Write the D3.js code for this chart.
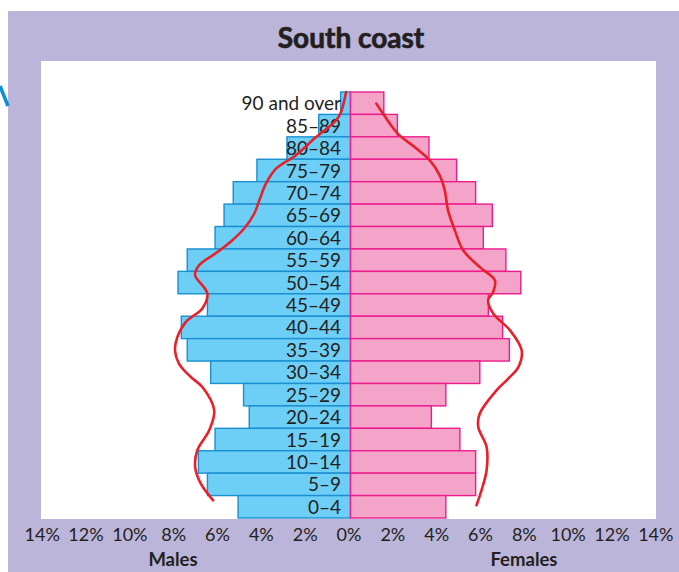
<!DOCTYPE html>
<html>
<head>
<meta charset="utf-8">
<script src="https://cdn.jsdelivr.net/npm/d3@7"></script>
<style>
  body { margin: 0; background: #fff; }
  text { font-family: Lato, "Open Sans", sans-serif; fill: #231f20; }
</style>
</head>
<body>
<script>
var width = 679, height = 572;

// age groups, top to bottom
var ages = ["90 and over", "85–89", "80–84", "75–79", "70–74", "65–69", "60–64",
            "55–59", "50–54", "45–49", "40–44", "35–39", "30–34", "25–29",
            "20–24", "15–19", "10–14", "5–9", "0–4"];
// percent of population
var males   = [0.45, 1.45, 2.9, 4.27, 5.35, 5.77, 6.18, 7.45, 7.87, 6.53, 7.72,
               7.45, 6.38, 4.88, 4.62, 6.18, 6.94, 6.53, 5.13];
var females = [1.52, 2.14, 3.58, 4.84, 5.71, 6.47, 6.06, 7.09, 7.77, 6.29, 6.94,
               7.25, 5.9, 4.35, 3.69, 4.99, 5.71, 5.71, 4.35];
var ticks = [-14, -12, -10, -8, -6, -4, -2, 0, 2, 4, 6, 8, 10, 12, 14];

// hand drawn red curves: [percent, row position from top]
var maleCurve = [[-0.2, 0.0], [-0.43, 0.89], [-0.65, 1.26], [-1.57, 2.01], [-2.49, 2.82],
                 [-3.4, 3.42], [-3.86, 4.09], [-4.16, 4.83], [-4.39, 5.42], [-4.85, 6.09],
                 [-5.39, 6.61], [-6.07, 7.14], [-6.91, 7.73], [-7.09, 8.18], [-6.76, 8.62],
                 [-6.53, 8.99], [-6.76, 9.66], [-7.52, 10.26], [-7.9, 10.93], [-8.01, 11.52],
                 [-7.83, 12.11], [-7.3, 12.7], [-6.76, 13.16], [-6.22, 14.2], [-6.45, 15.09],
                 [-6.99, 15.98], [-7.09, 16.73], [-6.83, 17.47], [-6.27, 18.21]];
var femaleCurve = [[1.18, 0.52], [1.48, 0.96], [2.16, 1.86], [3.01, 2.52], [3.62, 3.05],
                   [4.07, 3.72], [4.3, 4.38], [4.45, 5.28], [4.76, 6.17], [5.14, 7.06],
                   [5.9, 7.81], [6.59, 8.4], [6.51, 8.92], [6.28, 9.29], [6.51, 9.88],
                   [7.28, 10.63], [7.81, 11.52], [7.66, 12.27], [7.2, 12.78], [6.67, 13.3],
                   [5.9, 14.34], [5.83, 14.94], [6.21, 15.83], [6.21, 16.87], [5.98, 17.76],
                   [5.75, 18.43]];

var svg = d3.select("body")
            .append("svg")
            .attr("width", width)
            .attr("height", height);

// lavender panel and white plot area
svg.append("rect").attr("x", 8).attr("y", 11).attr("width", width - 8).attr("height", height - 11)
   .attr("fill", "#bbb5d9");
svg.append("rect").attr("x", 41).attr("y", 61).attr("width", 615).attr("height", 458)
   .attr("fill", "#fff");

// bit of arrow poking in from the left
svg.append("line").attr("x1", 0).attr("y1", 86).attr("x2", 8).attr("y2", 106)
   .attr("stroke", "#0b8fd3").attr("stroke-width", 3.5);

svg.append("text")
   .attr("x", 351).attr("y", 48)
   .attr("text-anchor", "middle")
   .attr("font-family", "'Open Sans', sans-serif")
   .attr("font-size", 28).attr("font-weight", "bold")
   .attr("stroke", "#231f20").attr("stroke-width", 0.7)
   .text("South coast");

let x = d3.scaleLinear()
          .domain([-14, 14])
          .range([43.7, 657.3]);

let y = d3.scaleBand()
          .domain(ages)
          .range([92, 518])
          .padding(0);

let yRow = d3.scaleLinear()
             .domain([0, ages.length])
             .range([92, 518]);

svg.selectAll("rect.male")
   .data(males).enter()
   .append("rect")
   .attr("class", "male")
   .attr("x", d => x(-d))
   .attr("y", (d, i) => y(ages[i]))
   .attr("width", d => x(0) - x(-d))
   .attr("height", y.bandwidth())
   .attr("fill", "#6dcff6")
   .attr("stroke", "#1a8fd1")
   .attr("stroke-width", 1.4);

svg.selectAll("rect.female")
   .data(females).enter()
   .append("rect")
   .attr("class", "female")
   .attr("x", x(0))
   .attr("y", (d, i) => y(ages[i]))
   .attr("width", d => x(d) - x(0))
   .attr("height", y.bandwidth())
   .attr("fill", "#f4a4c8")
   .attr("stroke", "#ec1c8c")
   .attr("stroke-width", 1.4);

svg.selectAll("text.age")
   .data(ages).enter()
   .append("text")
   .attr("class", "age")
   .attr("x", x(0) - 9.5)
   .attr("y", d => y(d) + y.bandwidth() / 2)
   .attr("dy", "0.37em")
   .attr("text-anchor", "end")
   .attr("font-size", 19)
   .text(d => d);

let line = d3.line()
             .x(d => x(d[0]))
             .y(d => yRow(d[1]))
             .curve(d3.curveCatmullRom);

[maleCurve, femaleCurve].forEach(function(c) {
    svg.append("path")
       .attr("d", line(c))
       .attr("fill", "none")
       .attr("stroke", "#e8202a")
       .attr("stroke-width", 2.6)
       .attr("stroke-linecap", "round");
});

let xAxis = d3.axisBottom(x)
              .tickValues(ticks)
              .tickSize(0)
              .tickPadding(0)
              .tickFormat(d => Math.abs(d) + "%");

let ax = svg.append("g")
            .attr("class", "x axis")
            .attr("transform", "translate(-2," + 541 + ")")
            .call(xAxis);
ax.select(".domain").remove();
ax.selectAll("text")
  .attr("dy", 0)
  .attr("font-size", 18)
  .attr("font-family", null)
  .attr("fill", "#231f20");

svg.append("text").attr("x", 173).attr("y", 566)
   .attr("text-anchor", "middle").attr("font-size", 18.5).attr("font-weight", "bold")
   .text("Males");
svg.append("text").attr("x", 524).attr("y", 566)
   .attr("text-anchor", "middle").attr("font-size", 18.5).attr("font-weight", "bold")
   .text("Females");
</script>
</body>
</html>
